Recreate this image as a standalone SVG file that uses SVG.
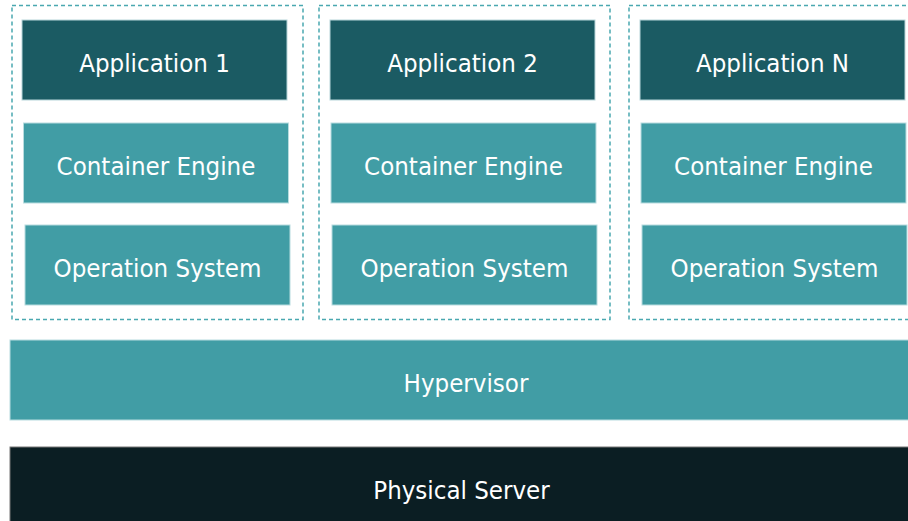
<svg xmlns="http://www.w3.org/2000/svg" width="908" height="521" viewBox="0 0 908 521">
<style>
.grp{fill:none;stroke:#4aa8b0;stroke-width:1.5;stroke-dasharray:4 3}
.app{fill:#1b5b63;stroke:#b8d6da;stroke-width:1}
.mid{fill:#419da5;stroke:#b8dcdf;stroke-width:1}
.srv{fill:#0b1e23;stroke:#777;stroke-width:1}
text{font-family:"DejaVu Sans Condensed","DejaVu Sans",sans-serif;font-stretch:condensed;font-size:25.6px;fill:#ffffff;text-anchor:middle;dominant-baseline:central}
</style>
<rect width="908" height="521" fill="#ffffff"/>
<g id="container1"><rect class="grp" x="12" y="5.5" width="291" height="314"/></g>
<g id="container2"><rect class="grp" x="319" y="5.5" width="291" height="314"/></g>
<g id="container3"><rect class="grp" x="629" y="5.5" width="291" height="314"/></g>
<g id="app1"><rect class="app" x="22" y="20" width="265" height="80"/><text x="154.5" y="63">Application 1</text></g>
<g id="app2"><rect class="app" x="330" y="20" width="265" height="80"/><text x="462.5" y="63">Application 2</text></g>
<g id="appN"><rect class="app" x="640" y="20" width="265" height="80"/><text x="772.5" y="63">Application N</text></g>
<g id="engine1"><rect class="mid" x="23.5" y="123" width="265" height="80"/><text x="156" y="166">Container Engine</text></g>
<g id="engine2"><rect class="mid" x="331" y="123" width="265" height="80"/><text x="463.5" y="166">Container Engine</text></g>
<g id="engine3"><rect class="mid" x="641" y="123" width="265" height="80"/><text x="773.5" y="166">Container Engine</text></g>
<g id="os1"><rect class="mid" x="25" y="225" width="265" height="80"/><text x="157.5" y="268">Operation System</text></g>
<g id="os2"><rect class="mid" x="332" y="225" width="265" height="80"/><text x="464.5" y="268">Operation System</text></g>
<g id="os3"><rect class="mid" x="642" y="225" width="265" height="80"/><text x="774.5" y="268">Operation System</text></g>
<g id="hypervisor"><rect class="mid" x="10" y="340" width="912" height="80"/><text x="466" y="383">Hypervisor</text></g>
<g id="server"><rect class="srv" x="10" y="447" width="903" height="84"/><text x="461.5" y="490">Physical Server</text></g>
<g id="connectors"></g>
</svg>
